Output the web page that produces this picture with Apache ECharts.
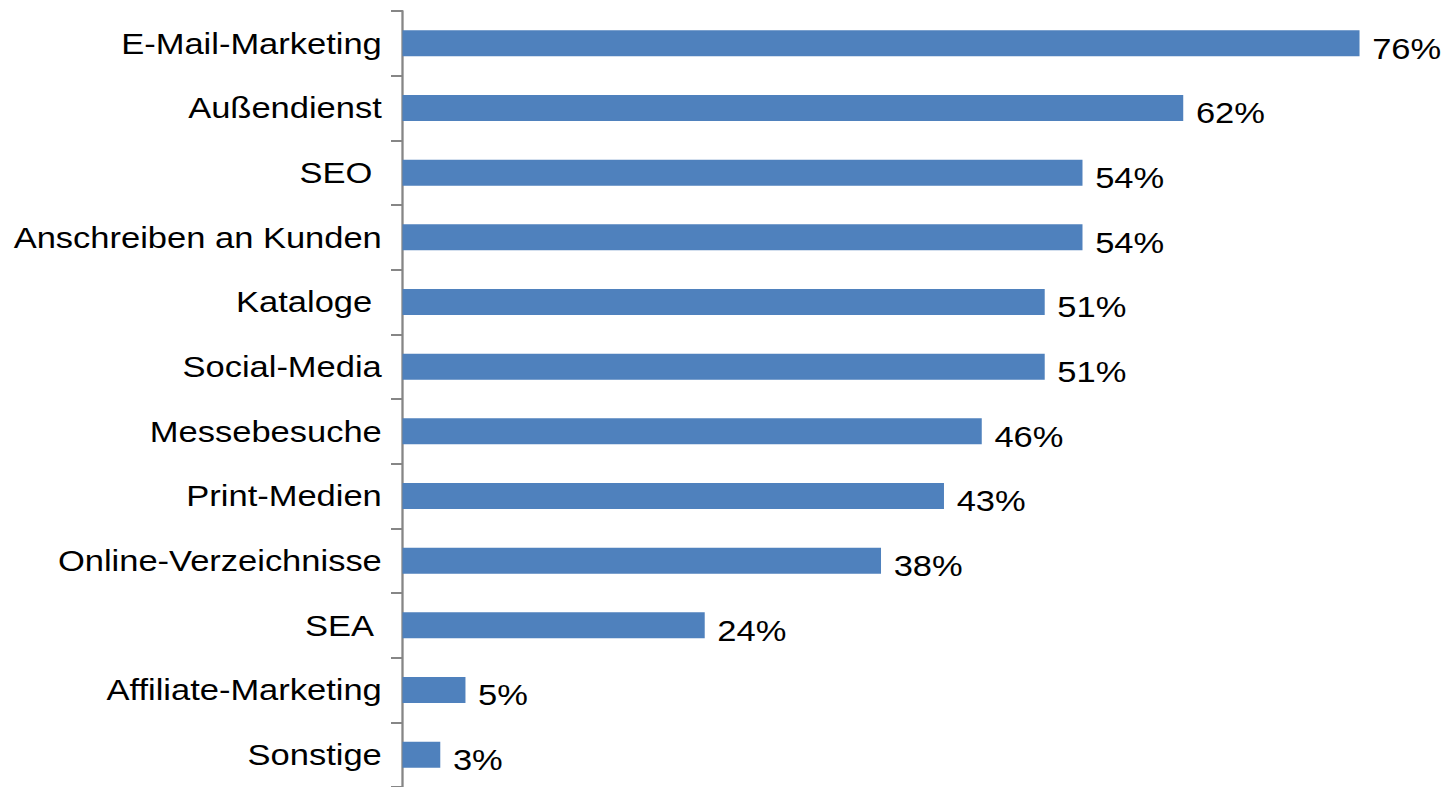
<!DOCTYPE html>
<html>
<head>
<meta charset="utf-8">
<script src="https://cdn.jsdelivr.net/npm/echarts@6/dist/echarts.min.js"></script>
<style>
  html, body { margin: 0; padding: 0; background: #fff; overflow: hidden; }
  /* the reference text is slightly wider than Arial, so stretch horizontally */
  #chart {
    width: 1259px;
    height: 787px;
    transform-origin: 0 0;
    transform: scaleX(1.15);
  }
</style>
</head>
<body>
<div id="chart"></div>
<script>
// categories, top to bottom (trailing spaces as in the original labels)
const categories = [
  'E-Mail-Marketing',
  'Außendienst',
  'SEO ',
  'Anschreiben an Kunden',
  'Kataloge ',
  'Social-Media',
  'Messebesuche',
  'Print-Medien',
  'Online-Verzeichnisse',
  'SEA ',
  'Affiliate-Marketing',
  'Sonstige'
];
const shares = [76, 62, 54, 54, 51, 51, 46, 43, 38, 24, 5, 3];

const chart = echarts.init(document.getElementById('chart'), null, { renderer: 'svg' });

const font = '"Liberation Sans", Arial, sans-serif';

chart.setOption({
  animation: false,
  grid: {
    left: 350,
    right: 33,
    top: 11,
    height: 780
  },
  xAxis: {
    type: 'value',
    min: 0,
    max: 80,
    show: false
  },
  yAxis: {
    type: 'category',
    data: categories,
    inverse: true,
    axisLine: { show: true, lineStyle: { color: '#868686', width: 2 } },
    axisTick: { show: true, length: 10, lineStyle: { color: '#868686', width: 2 } },
    axisLabel: {
      margin: 18,
      fontSize: 30,
      fontFamily: font,
      color: '#000'
    }
  },
  series: [{
    type: 'bar',
    data: shares,
    barWidth: 26,
    itemStyle: { color: '#4F81BD' },
    label: {
      show: true,
      position: 'right',
      distance: 11,
      offset: [0, 5],
      formatter: '{c}%',
      fontSize: 30,
      fontFamily: font,
      color: '#000'
    }
  }]
});
</script>
</body>
</html>
